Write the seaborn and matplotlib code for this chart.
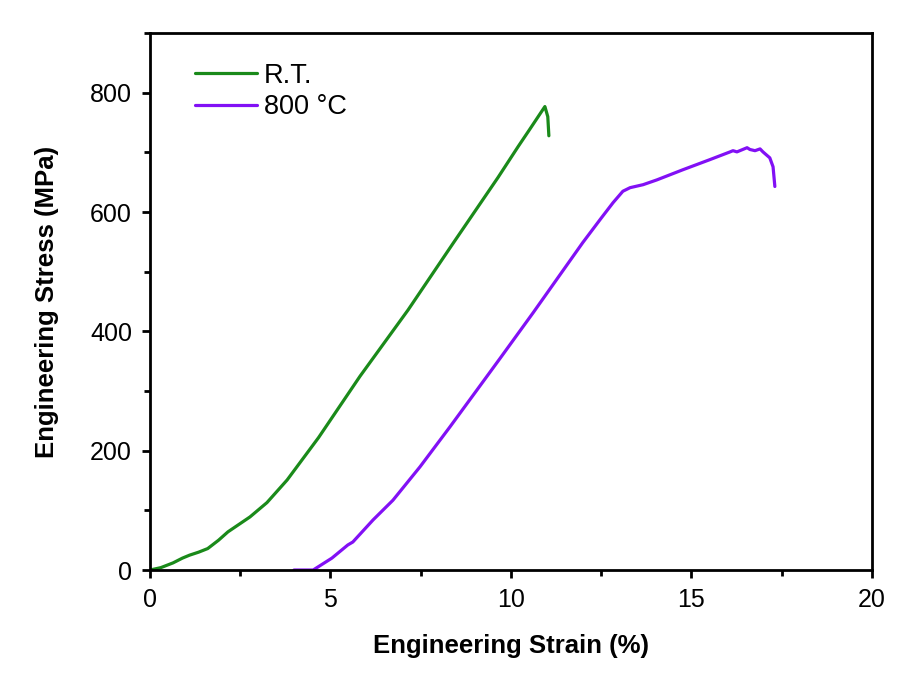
import numpy as np
import pandas as pd
import matplotlib
matplotlib.use("Agg")
import matplotlib.pyplot as plt
import seaborn as sns
from matplotlib.ticker import MultipleLocator

# Kurwa R.T.
rt_strain = [0.0, 0.3, 0.64, 0.9, 1.1, 1.35, 1.6, 1.9, 2.16, 2.77, 3.24, 3.8,
             4.67, 5.82, 7.15, 8.4, 9.64, 10.2, 10.5, 10.94, 11.02, 11.05]
rt_stress = [0, 4, 12, 20, 25, 30, 36, 50, 64, 89, 113, 151,
             222, 325, 436, 548, 658, 710, 737, 777, 760, 728]

# Kurwa 800 °C
ht_strain = [3.99, 4.52, 5.04, 5.48, 5.62, 6.18, 6.73, 7.48, 8.31, 9.06, 9.7,
             10.61, 11.3, 11.99, 12.5, 12.83, 13.1, 13.3, 13.66, 14.04, 14.76,
             15.51, 16.07, 16.15, 16.26, 16.54, 16.62, 16.76, 16.9, 16.98,
             17.17, 17.26, 17.31]
ht_stress = [0, 0, 20, 42, 47, 84, 117, 173, 240, 302, 355,
             431, 490, 549, 590, 616, 635, 641, 646, 654, 671,
             688, 701, 703, 701, 708, 705, 703, 706, 701,
             691, 676, 643]

labels = ["R.T.", "800 °C"]
colors = ["#1a8a1a", "#8210f5"]

df = pd.concat([
    pd.DataFrame({"strain": rt_strain, "stress": rt_stress, "cond": labels[0]}),
    pd.DataFrame({"strain": ht_strain, "stress": ht_stress, "cond": labels[1]}),
])

sns.set_style("ticks")
plt.rcParams["font.family"] = ["Liberation Sans", "DejaVu Sans"]
plt.rcParams["text.color"] = "black"
plt.rcParams["axes.labelcolor"] = "black"
plt.rcParams["xtick.color"] = "black"
plt.rcParams["ytick.color"] = "black"

fig = plt.figure(figsize=(9.05, 6.77), dpi=100)
ax = fig.add_axes([0.1657, 0.158, 0.7978, 0.793])
sns.lineplot(data=df, x="strain", y="stress", hue="cond", palette=colors,
             sort=False, estimator=None, linewidth=2.3, ax=ax)

ax.set_xlim(0, 20)
ax.set_ylim(0, 900)
ax.xaxis.set_major_locator(MultipleLocator(5))
ax.xaxis.set_minor_locator(MultipleLocator(2.5))
ax.yaxis.set_major_locator(MultipleLocator(200))
ax.yaxis.set_minor_locator(MultipleLocator(100))
for s in ax.spines.values():
    s.set_linewidth(2)
    s.set_color("black")
ax.tick_params(which="major", length=6, width=2, labelsize=18, pad=7, direction="out")
ax.tick_params(which="minor", length=4, width=2, direction="out")
ax.set_xlabel("Engineering Strain (%)", fontsize=18.5, fontweight="bold", labelpad=16)
ax.set_ylabel("Engineering Stress (MPa)", fontsize=18.5, fontweight="bold", labelpad=22)

ax.legend(loc="upper left", frameon=False, fontsize=19.5, handlelength=2.3,
          handletextpad=0.25, bbox_to_anchor=(0.062, 0.945), borderaxespad=0,
          borderpad=0, labelspacing=0.2)

fig.savefig("out.png", dpi=100)
